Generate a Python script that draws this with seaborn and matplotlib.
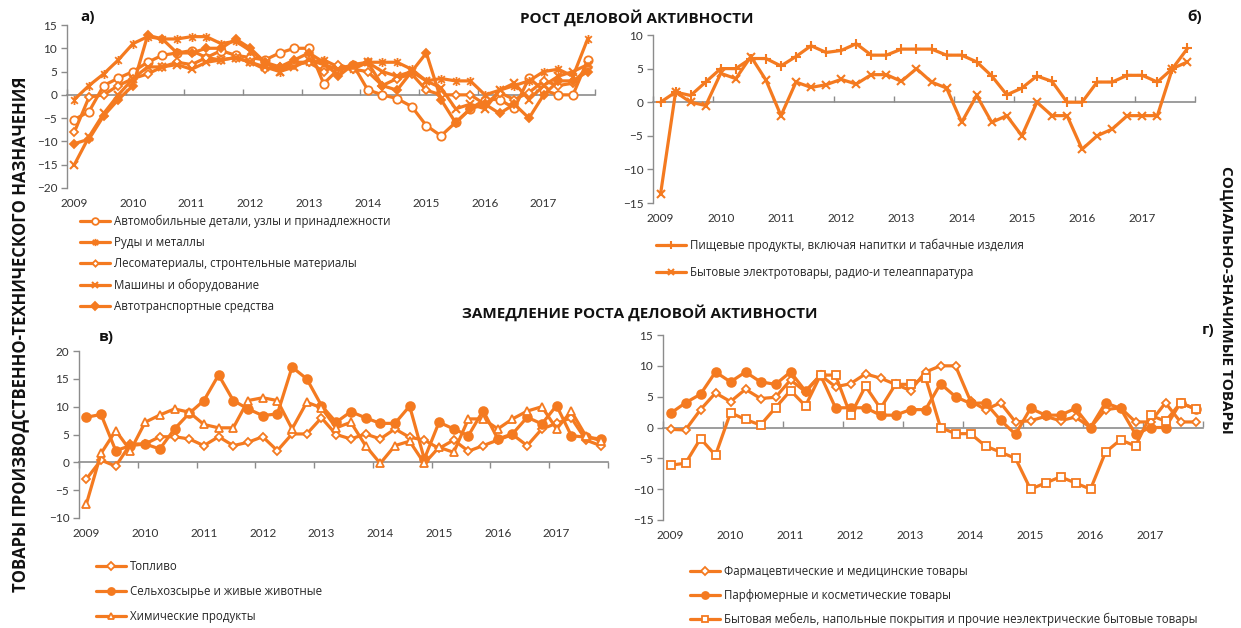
import numpy as np
import pandas as pd
import matplotlib
matplotlib.use("Agg")
import matplotlib.pyplot as plt
from matplotlib.path import Path
import seaborn as sns

# ---------------- data (quarterly, 2009Q1 .. 2017Q4) ----------------
years = ["2009", "2010", "2011", "2012", "2013", "2014", "2015", "2016", "2017"]
quarters = list(range(36))

# Panel а
auto_parts = [-5.3, -3.6, 2, 3.6, 5, 7, 8.5, 9, 9.5, 8, 9.5, 8.5, 8, 7.5, 9, 10, 10, 2.4,
              5.5, 6.5, 1.1, 0, -0.8, -2.5, -6.6, -8.8, -5.9, -3, -1, -1, -2.9, 3.6, 1, 0, 0, 7.5]
ores = [-1, 2, 4.5, 7.5, 11, 12.5, 12, 12, 12.5, 12.5, 11, 11.5, 9.5, 7, 5, 7, 7, 7.5,
        6, 5.5, 7, 7, 7, 5.5, 3, 3.5, 3, 3, 0, 1, 2, 3, 5, 5.5, 4, 12]
timber = [-8, -0.5, 0, 2, 3.5, 4.5, 6, 7, 6.5, 8, 7.5, 8, 7, 5.5, 6, 6.5, 7, 5,
          6.5, 5.5, 5, 2, 3.5, 4.5, 1, 0, 0, 0, -2, 0.5, -1, 0.5, 3, 2, 2.5, 6]
machines = [-15, -9, -4, 0, 3.5, 6, 6, 6.5, 5.5, 7, 7.5, 8, 7, 6, 5, 6, 7.5, 6.5,
            5.5, 6, 7, 5, 4, 5, 3, 1.5, -3, -2, -3, 1, 2.5, -1, 2, 4, 5, 6.5]
vehicles = [-10.5, -9.5, -4.5, -1, 2, 12.8, 12, 9, 9, 10, 10, 12, 10, 7, 6, 7.5, 9, 7,
            4, 6.5, 7, 2, 1, 5, 9, -1, -6, -3, -2, -4, -2, -5, 0, 3, 3, 5]

# Panel б
food = [0, 1.5, 1, 3, 5, 5, 6.5, 6.5, 5.4, 6.8, 8.4, 7.4, 7.7, 8.7, 7, 7, 7.9, 7.9,
        7.9, 7, 7, 6, 3.9, 1.1, 2.1, 3.9, 3.1, 0, 0, 3, 3, 4, 4, 3, 5, 8]
electro = [-13.7, 1.5, 0, -0.5, 4.3, 3.5, 6.8, 3.3, -2, 3, 2.2, 2.6, 3.4, 2.7, 4.1, 4.1, 3.1, 5,
           3, 2.1, -3, 1, -3, -2, -5, 0, -2, -2, -7, -5, -4, -2, -2, -2, 5, 6]

# Panel в
fuel = [-3, 0.4, -0.7, 3.3, 3.3, 4.6, 4.6, 4.2, 3, 4.6, 3, 3.6, 4.6, 2.1, 5.1, 5.1, 8, 5,
        4.2, 5.1, 4.2, 6, 4.5, 4, 2.5, 4, 2, 3, 4, 5, 3, 6, 7, 8, 4, 3]
agri = [8.1, 8.6, 2.1, 3, 3.3, 2.4, 6, 8.8, 11.1, 15.7, 11.1, 9.6, 8.4, 8.7, 17.1, 15, 10.2, 7.2,
        9.1, 8, 7, 7, 10.1, 0.6, 7.2, 6, 4.8, 9.3, 4.2, 5.1, 8.1, 6.9, 10.2, 4.8, 4.5, 4.2]
chem = [-7.5, 1.6, 5.7, 2.1, 7.2, 8.5, 9.6, 9, 6.8, 6.2, 6.2, 11.1, 11.6, 11.1, 6, 10.8, 9.8, 6.2,
        7.2, 3, -0.2, 3, 3.8, -0.2, 2.7, 1.8, 7.8, 7.8, 6, 7.8, 9.2, 10, 6, 9.2, 4.7, 3.9]

# Panel г
pharma = [-0.3, -0.4, 2.9, 5.6, 4.2, 6.2, 4.7, 4.9, 7.7, 5.8, 8.5, 6.6, 7.1, 8.7, 8, 7, 6, 9,
          10, 10, 4.3, 2.9, 4, 0.9, 1.1, 1.8, 1.1, 1.7, 0, 2.9, 3.2, 0.9, 0.9, 4, 0.9, 0.9]
perfume = [2.3, 4, 5.4, 9, 7.4, 9, 7.4, 7, 9, 5.9, 8.5, 3.2, 3.2, 3.2, 2, 2, 2.9, 2.9,
           7.1, 5, 3.9, 4, 1.2, -1.1, 3.1, 2, 2, 3.1, 0, 4, 3.1, -1.1, 0, 0, 4, 3]
furniture = [-6.1, -5.8, -1.8, -4.5, 2.4, 1.3, 0.4, 3.2, 6, 3.5, 8.5, 8.5, 2, 6.7, 3.1, 7, 7, 8.1,
             0, -1, -1, -3, -4, -5, -10, -9, -8, -9, -10, -4, -2, -3, 2, 1, 4, 3]

lab_a = ["Автомобильные детали, узлы и принадлежности", "Руды и металлы",
         "Лесоматериалы, стронтельные материалы", "Машины и оборудование",
         "Автотранспортные средства"]
lab_b = ["Пищевые продукты, включая напитки и табачные изделия",
         "Бытовые электротовары, радио-и телеаппаратура"]
lab_v = ["Топливо", "Сельхозсырье и живые животные", "Химические продукты"]
lab_g = ["Фармацевтические и медицинские товары", "Парфюмерные и косметические товары",
         "Бытовая мебель, напольные покрытия и прочие неэлектрические бытовые товары"]

# ---------------- style ----------------
sns.set_theme(style="white")
plt.rcParams["font.family"] = ["Open Sans", "DejaVu Sans"]

ORANGE = "#F47A20"
GRAY = "#8C8C8C"
W, H = 1241, 628

star = Path([(-1, -1), (1, 1), (-1, 1), (1, -1), (0, -1.35), (0, 1.35)],
            [Path.MOVETO, Path.LINETO, Path.MOVETO, Path.LINETO, Path.MOVETO, Path.LINETO])

fig = plt.figure(figsize=(W / 100, H / 100), dpi=100)


def add_ax(l, r, t, b):
    return fig.add_axes([l / W, 1 - b / H, (r - l) / W, (b - t) / H])


def style_ax(ax, ylim, step):
    ax.set_xlim(-0.5, 35.5)
    ax.set_ylim(*ylim)
    ax.set_yticks(np.arange(ylim[0], ylim[1] + 0.1, step))
    ax.set_xticks(range(0, 36, 4))
    ax.set_xticklabels(years)
    for s in ["top", "right", "bottom"]:
        ax.spines[s].set_visible(False)
    ax.spines["left"].set_color(GRAY)
    ax.spines["left"].set_linewidth(1.0)
    ax.tick_params(axis="y", direction="out", length=4, width=1, color=GRAY, left=True,
                   labelsize=8.5, labelcolor="#333333", pad=3)
    ax.tick_params(axis="x", length=0, labelsize=8.5, labelcolor="#333333", pad=7)
    for t in ax.get_xticklabels() + ax.get_yticklabels():
        t.set_fontfamily(["Lato", "DejaVu Sans"])
    ax.grid(False)
    frac = (0 - ylim[0]) / (ylim[1] - ylim[0])
    sec = ax.secondary_xaxis(frac)
    sec.set_xticks(np.arange(-0.5, 36, 4))
    sec.set_xticklabels([])
    sec.tick_params(direction="out", length=4, width=1, color=GRAY)
    for s in sec.spines.values():
        s.set_visible(False)
    sec.spines["bottom"].set_visible(True)
    sec.spines["bottom"].set_color(GRAY)
    sec.spines["bottom"].set_linewidth(1.2)
    sec.set_zorder(0)


def draw(ax, y, marker, ms, mfc, mew=1.3):
    sns.lineplot(x=quarters, y=y, ax=ax, color=ORANGE, linewidth=2.3, marker=marker,
                 markersize=ms, markerfacecolor=mfc, markeredgecolor=ORANGE,
                 markeredgewidth=mew, legend=False, zorder=3)
    return ax.lines[-1]


def legend(ax, handles, labels, x, y, spacing):
    ax.legend(handles, labels, loc="upper left", bbox_to_anchor=(x / W, 1 - y / H),
              bbox_transform=fig.transFigure, frameon=False, borderpad=0, borderaxespad=0,
              handlelength=2.6, handletextpad=0.35, labelspacing=spacing, markerscale=0.8,
              prop={"family": ["Open Sans", "DejaVu Sans"], "size": 8.3})


# Panel а
ax_a = add_ax(67, 595, 25, 188)
style_ax(ax_a, (-20, 15), 5)
h = [draw(ax_a, auto_parts, "o", 6, "white"),
     draw(ax_a, ores, star, 6.5, "none", 1.3),
     draw(ax_a, timber, "D", 4, "white"),
     draw(ax_a, machines, "x", 6, "none", 1.5),
     draw(ax_a, vehicles, "D", 4.5, ORANGE)]
legend(ax_a, h, lab_a, 80, 215, 0.7)

# Panel б
ax_b = add_ax(653, 1195, 35, 203)
style_ax(ax_b, (-15, 10), 5)
h = [draw(ax_b, food, "+", 7, "none", 1.5),
     draw(ax_b, electro, "x", 6, "none", 1.5)]
legend(ax_b, h, lab_b, 656, 239, 1.2)

# Panel в
ax_v = add_ax(79, 608, 351, 518)
style_ax(ax_v, (-10, 20), 5)
h = [draw(ax_v, fuel, "D", 4.5, "white"),
     draw(ax_v, agri, "o", 6.3, ORANGE),
     draw(ax_v, chem, "^", 6, "white")]
legend(ax_v, h, lab_v, 96, 560, 1.05)

# Panel г
ax_g = add_ax(663, 1203, 335, 520)
style_ax(ax_g, (-15, 15), 5)
h = [draw(ax_g, pharma, "D", 4.5, "white"),
     draw(ax_g, perfume, "o", 6.3, ORANGE),
     draw(ax_g, furniture, "s", 6, "white")]
legend(ax_g, h, lab_g, 690, 565, 0.95)

# Titles and labels
bold = dict(fontweight="bold", color="#111111", family=["Open Sans", "DejaVu Sans"])
fig.text(637 / W, 1 - 18 / H, "РОСТ ДЕЛОВОЙ АКТИВНОСТИ", ha="center", va="center", fontsize=11, **bold)
fig.text(640 / W, 1 - 313 / H, "ЗАМЕДЛЕНИЕ РОСТА ДЕЛОВОЙ АКТИВНОСТИ", ha="center", va="center",
         fontsize=11, **bold)
fig.text(88 / W, 1 - 17 / H, "а)", ha="center", va="center", fontsize=11, **bold)
fig.text(1195 / W, 1 - 17 / H, "б)", ha="center", va="center", fontsize=11, **bold)
fig.text(106 / W, 1 - 337 / H, "в)", ha="center", va="center", fontsize=11, **bold)
fig.text(1208 / W, 1 - 330 / H, "г)", ha="center", va="center", fontsize=11, **bold)
fig.text(20 / W, 1 - 334 / H, "ТОВАРЫ ПРОИЗВОДСТВЕННО-ТЕХНИЧЕСКОГО НАЗНАЧЕНИЯ", rotation=90,
         ha="center", va="center", fontsize=12, **bold)
fig.text(1226 / W, 1 - 300 / H, "СОЦИАЛЬНО-ЗНАЧИМЫЕ ТОВАРЫ", rotation=270,
         ha="center", va="center", fontsize=11, **bold)

fig.savefig("out.png", dpi=100, facecolor="white")
